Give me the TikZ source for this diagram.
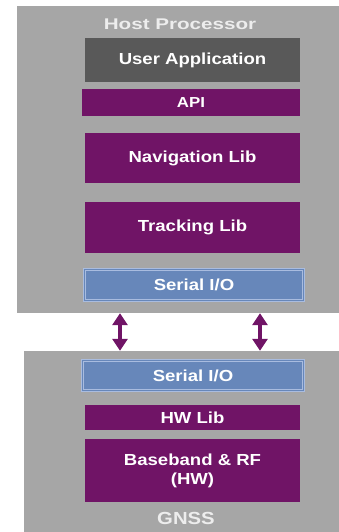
\documentclass[tikz,border=0pt]{standalone}
\usepackage{fontspec}
\setmainfont{Liberation Sans}[FakeStretch=1.16]
\newfontfamily\titlefont{Liberation Sans}[FakeStretch=1.33]
\usetikzlibrary{arrows.meta}

\definecolor{panelgray}{HTML}{A6A6A6}
\definecolor{appgray}{HTML}{595959}
\definecolor{libpurple}{HTML}{701466}
\definecolor{iofill}{HTML}{6787BA}
\definecolor{ioedge}{HTML}{A9BCDF}
\definecolor{titlegray}{HTML}{EDEDED}

\begin{document}
\begin{tikzpicture}[x=1pt,y=-1pt,
    panel/.style={fill=panelgray,inner sep=0pt},
    layer/.style={fill=libpurple,text=white,inner sep=0pt,font=\bfseries\fontsize{16}{19}\selectfont,align=center},
    iolayer/.style={layer,fill=iofill,draw=ioedge,line width=0.9pt,double=iofill,double distance=1.5pt},
    caption/.style={text=titlegray,font=\titlefont\bfseries\fontsize{15.5}{18}\selectfont},
    link/.style={draw=libpurple,line width=4pt,{Triangle[width=15pt,length=12pt]}-{Triangle[width=15pt,length=12pt]}}]
    \useasboundingbox (0,0) rectangle (339,532);
    % host side
    \path (178,159.5) node(host)[panel,minimum width=322pt,minimum height=307pt] {};
    \path (180,24) node(hosttitle)[caption] {Host Processor};
    \path (192.5,60) node(app)[layer,fill=appgray,minimum width=215pt,minimum height=44pt] {User Application};
    \path (191,102.5) node(api)[layer,minimum width=218pt,minimum height=27pt,font=\bfseries\fontsize{14.5}{17}\selectfont] {API};
    \path (192.5,158) node(navlib)[layer,minimum width=215pt,minimum height=50pt] {Navigation Lib};
    \path (192.5,227.5) node(tracklib)[layer,minimum width=215pt,minimum height=51pt] {Tracking Lib};
    \path (194,285) node(hostio)[iolayer,minimum width=219pt,minimum height=31pt] {Serial I/O};
    % gnss side
    \path (181.5,441.5) node(gnss)[panel,minimum width=315pt,minimum height=181pt] {};
    \path (193,375.5) node(gnssio)[iolayer,minimum width=221pt,minimum height=30pt] {Serial I/O};
    \path (192.5,417.5) node(hwlib)[layer,minimum width=215pt,minimum height=25pt] {HW Lib};
    \path (192.5,470.5) node(baseband)[layer,minimum width=215pt,minimum height=63pt] {Baseband \& RF\\(HW)};
    \path (186,518) node(gnsstitle)[caption,font=\bfseries\fontsize{17.5}{20}\selectfont] {GNSS};
    % links between the two
    \path (host.south -| 120,0) edge[link] (gnss.north -| 120,0);
    \path (host.south -| 260,0) edge[link] (gnss.north -| 260,0);
\end{tikzpicture}
\end{document}
